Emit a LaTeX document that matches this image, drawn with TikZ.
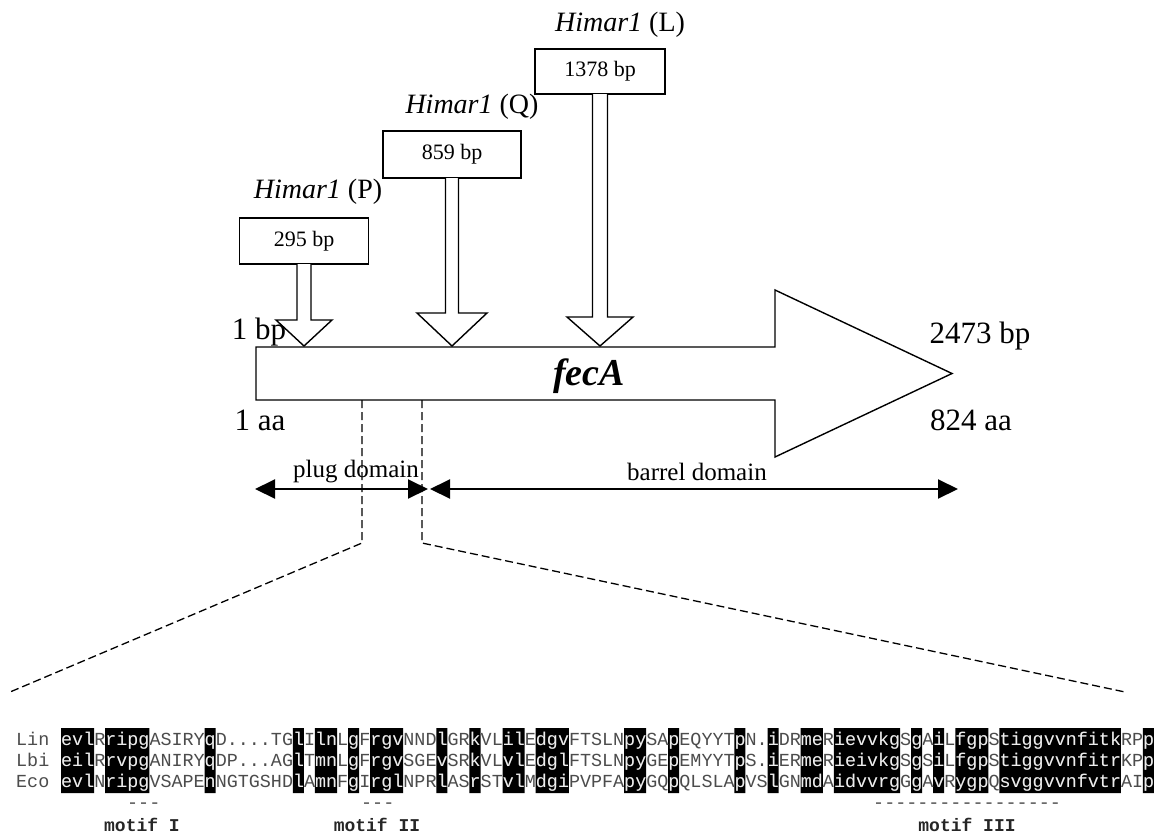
\documentclass[tikz,border=0pt]{standalone}
\usepackage{fontspec}
\setmainfont{Liberation Serif}
\newfontfamily\monof{Liberation Mono}
\usetikzlibrary{arrows.meta,calc}
\definecolor{seqgray}{gray}{0.3}
\definecolor{seqwhite}{gray}{0.93}
\begin{document}
\begin{tikzpicture}[x=1pt,y=-1pt,
  outl/.style={draw=black,line width=1.4pt,fill=white,line join=miter},
  ibox/.style={outl,inner sep=0pt,font=\fontsize{22}{24}\selectfont},
  him/.style={inner sep=0pt,font=\fontsize{28}{30}\selectfont},
  endlbl/.style={inner sep=0pt,font=\fontsize{31}{33}\selectfont},
  dom/.style={inner sep=0pt,font=\fontsize{25}{27}\selectfont},
  dsh/.style={draw=black,line width=1.3pt,dash pattern=on 8pt off 4pt},
  darr/.style={draw=black,line width=2pt,{Triangle[length=20pt,width=19pt]}-{Triangle[length=20pt,width=19pt]}},
  seq/.style={inner sep=0pt,anchor=base west,font=\monof\fontsize{18.4}{21}\selectfont,text=seqgray},
  seqw/.style={seq,text=seqwhite},
  motif/.style={inner sep=0pt,font=\monof\bfseries\fontsize{18}{20}\selectfont,text=black!85}]
\useasboundingbox (0,0) rectangle (1156,835);

% gene body arrow
\draw[outl] (256,347) -- (775,347) -- (775,290) -- (952,373.5) -- (775,457) -- (775,400) -- (256,400) -- cycle;
\node[inner sep=0pt,font=\bfseries\itshape\fontsize{38}{40}\selectfont] (fec) at (589,376) {fecA};

% insertion P
\node[ibox,minimum width=129pt,minimum height=46pt] (bP) at (304,241) {295 bp};
\draw[outl] (297,264) -- (297,320) -- (276,320) -- (304,346) -- (332,320) -- (311,320) -- (311,264);
\node[him] (hP) at (318,192) {\textit{Himar1} (P)};

% insertion Q
\node[ibox,minimum width=138pt,minimum height=47pt] (bQ) at (452,154.5) {859 bp};
\draw[outl] (445.5,178) -- (445.5,313) -- (417,313) -- (452,346) -- (487,313) -- (458.5,313) -- (458.5,178);
\node[him] (hQ) at (472,107) {\textit{Himar1} (Q)};

% insertion L
\node[ibox,minimum width=130pt,minimum height=45pt] (bL) at (600,71.5) {1378 bp};
\draw[outl] (592.5,94) -- (592.5,317) -- (567,317) -- (600,346) -- (633,317) -- (607.5,317) -- (607.5,94);
\node[him] (hL) at (620,25) {\textit{Himar1} (L)};

% end labels
\node[endlbl] (b1) at (259,332) {1 bp};
\node[endlbl] (a1) at (260,420) {1 aa};
\node[endlbl] (b2) at (980,336) {2473 bp};
\node[endlbl] (a2) at (971,420) {824 aa};

% domains
\node[dom] (plug) at (356,472) {plug domain};
\node[dom] (barrel) at (697,472) {barrel domain};
\coordinate (pl) at (255,489);
\coordinate (pr) at (428,489);
\coordinate (bl) at (430,489);
\coordinate (br) at (958,489);
\draw[darr] (pl) -- (pr);
\draw[darr] (bl) -- (br);

% zoom lines
\coordinate (d1t) at (362,400);
\coordinate (d1b) at (362,543);
\coordinate (d2t) at (422,400);
\coordinate (d2b) at (422,543);
\coordinate (zl) at (10,692);
\coordinate (zr) at (1125,692);
\draw[dsh] (d1t) -- (d1b) -- (zl);
\draw[dsh] (d2t) -- (d2b) -- (zr);

% alignment shading
\fill[black] foreach \a/\b in {1/3,5/8,14/14,22/22,24/25,27/27,29/31,35/35,38/38,41/42,44/46,52/53,56/56,62/62,65/65,68/69,71/76,78/78,80/80,82/84,86/96,99/99}
  {({61+(\a-1)*11.04},728) rectangle ({61+\b*11.04},793)};

\node[seq] (nLin) at (16,745) {Lin};
\node[seq] (nLbi) at (16,766) {Lbi};
\node[seq] (nEco) at (16,787) {Eco};
\node[seq] (sLin) at (61,745) {evlRripgASIRYqD....TGlIlnLgFrgvNNDlGRkVLilEdgvFTSLNpySApEQYYTpN.iDRmeRievvkgSgAiLfgpStiggvvnfitkRPp};
\node[seq] (sLbi) at (61,766) {eilRrvpgANIRYqDP...AGlTmnLgFrgvSGEvSRkVLvlEdglFTSLNpyGEpEMYYTpS.iERmeRieivkgSgSiLfgpStiggvvnfitrKPp};
\node[seq] (sEco) at (61,787) {evlNripgVSAPEnNGTGSHDlAmnFgIrglNPRlASrSTvlMdgiPVPFApyGQpQLSLApVSlGNmdAidvvrgGgAvRygpQsvggvvnfvtrAIp};
\begin{scope}
\clip foreach \a/\b in {1/3,5/8,14/14,22/22,24/25,27/27,29/31,35/35,38/38,41/42,44/46,52/53,56/56,62/62,65/65,68/69,71/76,78/78,80/80,82/84,86/96,99/99}
  {({61+(\a-1)*11.04},728) rectangle ({61+\b*11.04},793)};
\node[seqw] (wLin) at (61,745) {evlRripgASIRYqD....TGlIlnLgFrgvNNDlGRkVLilEdgvFTSLNpySApEQYYTpN.iDRmeRievvkgSgAiLfgpStiggvvnfitkRPp};
\node[seqw] (wLbi) at (61,766) {eilRrvpgANIRYqDP...AGlTmnLgFrgvSGEvSRkVLvlEdglFTSLNpyGEpEMYYTpS.iERmeRieivkgSgSiLfgpStiggvvnfitrKPp};
\node[seqw] (wEco) at (61,787) {evlNripgVSAPEnNGTGSHDlAmnFgIrglNPRlASrSTvlMdgiPVPFApyGQpQLSLApVSlGNmdAidvvrgGgAvRygpQsvggvvnfvtrAIp};
\end{scope}

% motifs
\node[seq] (dI) at (127,808) {-{}-{}-};
\node[seq] (dII) at (361,808) {-{}-{}-};
\node[seq] (dIII) at (873,808) {-{}-{}-{}-{}-{}-{}-{}-{}-{}-{}-{}-{}-{}-{}-{}-{}-};
\node[motif] (mI) at (142,825) {motif I};
\node[motif] (mII) at (377,825) {motif II};
\node[motif] (mIII) at (967,825) {motif III};
\end{tikzpicture}
\end{document}
